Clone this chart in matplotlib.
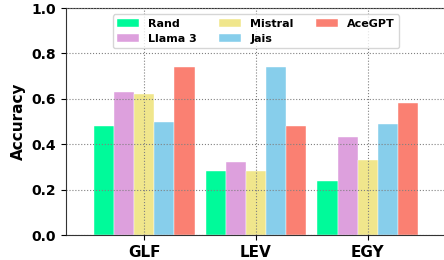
import matplotlib
matplotlib.use("Agg")
import matplotlib.pyplot as plt
import numpy as np

categories = ["GLF", "LEV", "EGY"]
models = ["Rand", "Llama 3", "Mistral", "Jais", "AceGPT"]
rand = [0.48, 0.28, 0.24]
llama3 = [0.63, 0.32, 0.43]
mistral = [0.62, 0.28, 0.33]
jais = [0.50, 0.74, 0.49]
acegpt = [0.74, 0.48, 0.58]
yticks = [0.0, 0.2, 0.4, 0.6, 0.8, 1.0]

series = [rand, llama3, mistral, jais, acegpt]
colors = ["#00FA9A", "#DDA0DD", "#F0E68C", "#87CEEB", "#FA8072"]

fig = plt.figure(figsize=(4.44, 2.6), dpi=100)
ax = fig.add_axes([0.1486, 0.096, 0.8559, 0.873])

x = np.arange(len(categories))
w = 0.18
for i, (vals, c, m) in enumerate(zip(series, colors, models)):
    ax.bar(x + (i - 2) * w, vals, w, color=c, label=m, edgecolor="white", linewidth=0.3)

ax.set_xlim(-0.7, 2.7)
ax.set_ylim(0, 1.0)
ax.set_xticks(x)
ax.set_xticklabels(categories, fontsize=11, fontweight="bold")
ax.set_yticks(yticks)
ax.set_yticklabels([f"{v:.1f}" for v in yticks], fontsize=10, fontweight="bold")
ax.set_ylabel("Accuracy", fontsize=11, fontweight="bold")
ax.set_axisbelow(False)
ax.grid(True, linestyle=":", color="gray", linewidth=0.8)
for s in ax.spines.values():
    s.set_color("#333333")
leg = ax.legend(loc="upper center", ncol=3, prop={"weight": "bold", "size": 8},
                bbox_to_anchor=(0.5, 0.997), handlelength=2.0, columnspacing=2.0,
                labelspacing=0.45, borderpad=0.4)
fig.savefig("out.png", dpi=100)
